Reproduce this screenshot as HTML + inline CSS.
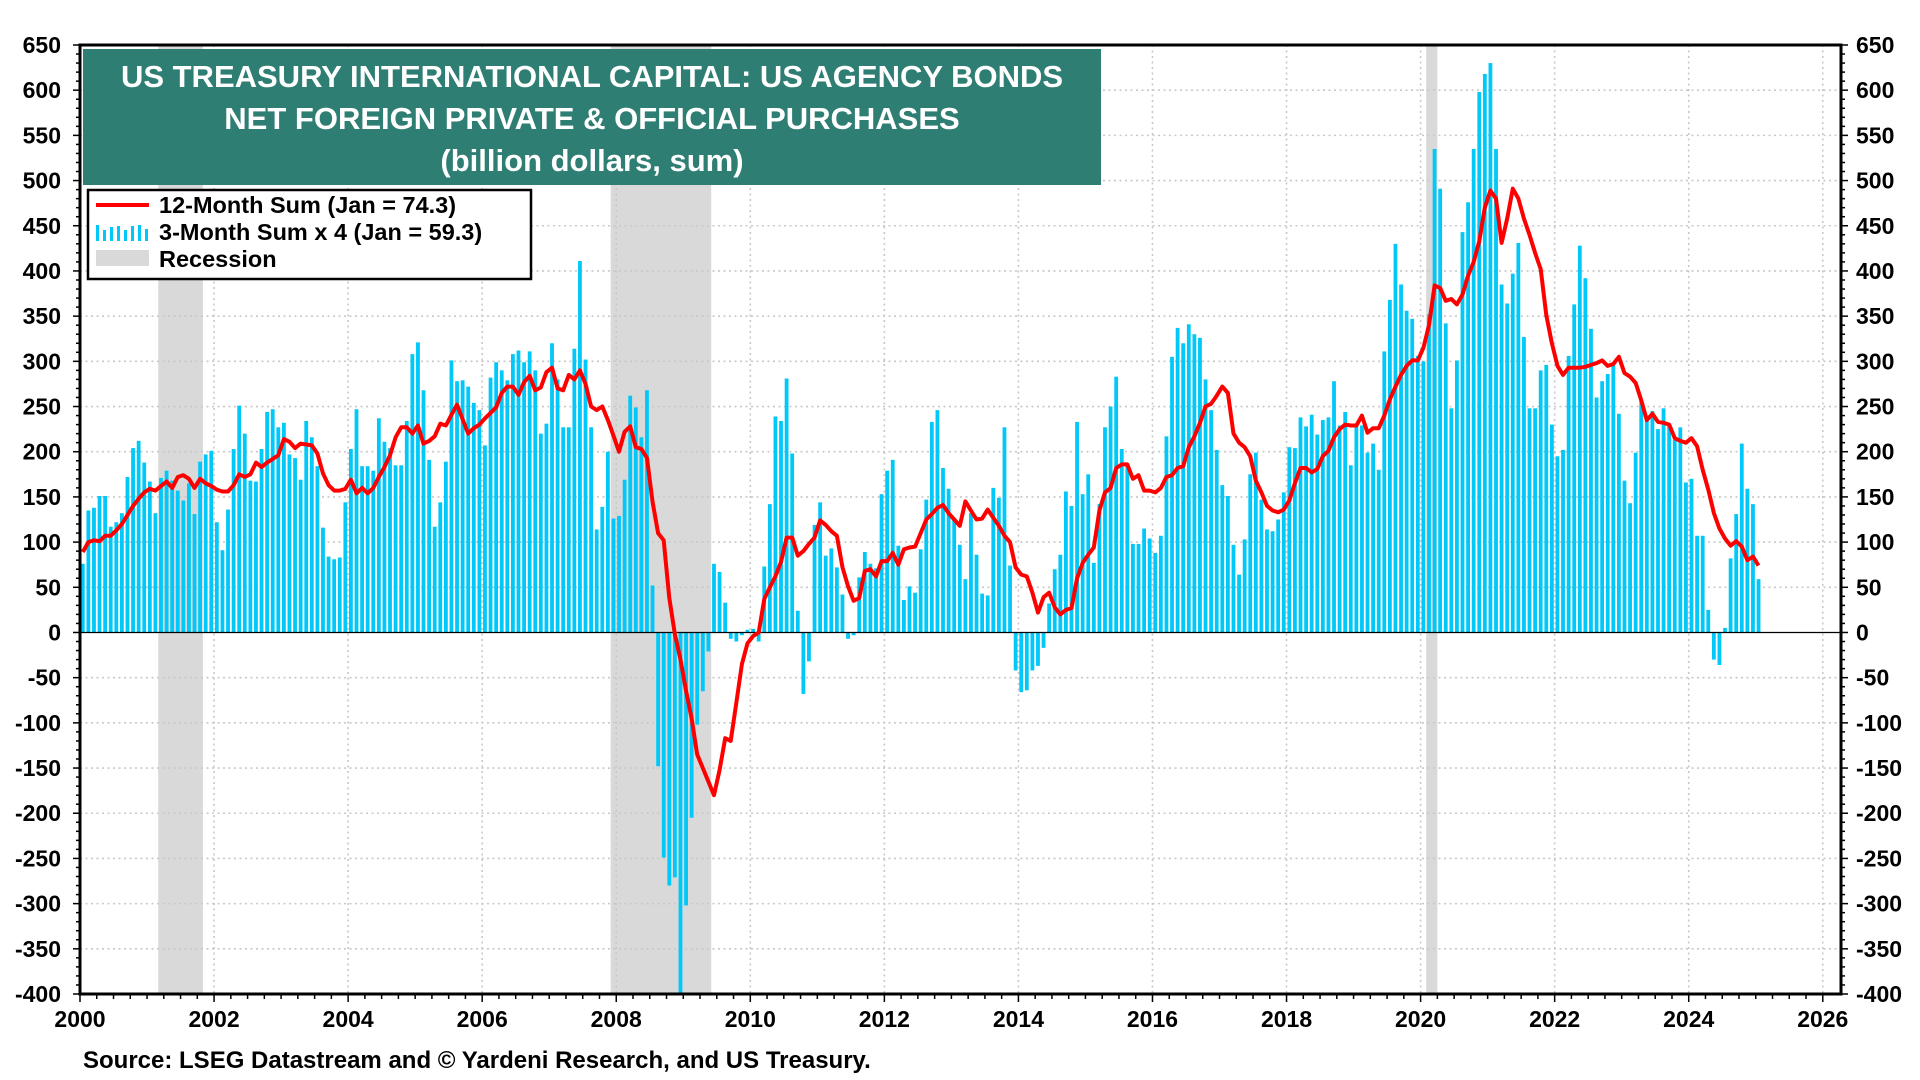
<!DOCTYPE html>
<html><head><meta charset="utf-8"><style>
html,body{margin:0;padding:0;background:#fff;}
svg{display:block;font-family:"Liberation Sans",Arial,sans-serif;}
</style></head><body>
<svg id="chart" width="1920" height="1080" viewBox="0 0 1920 1080" xmlns="http://www.w3.org/2000/svg"></svg>
<script>
const barValues = [
76,135,138,151,151,117,122,132,172,204,212,188,
167,132,171,179,168,157,146,165,131,189,197,201,
122,91,136,203,251,220,168,167,203,244,247,227,
232,197,193,169,234,216,184,116,84,81,83,144,
203,247,184,184,179,237,211,204,185,185,234,308,
321,268,191,117,144,189,301,278,279,272,254,246,
207,282,299,290,279,308,312,299,311,290,220,231,
320,280,227,227,314,411,302,227,114,139,200,126,
129,169,262,249,216,268,52,-148,-249,-280,-271,-400,
-302,-205,-102,-65,-21,76,67,33,-7,-10,-3,3,
4,-10,73,142,239,234,281,198,24,-68,-32,119,
144,85,93,72,42,-7,-3,61,89,76,71,153,
179,191,96,36,51,44,92,147,233,246,182,159,
125,97,59,132,86,43,41,160,149,227,74,-42,
-66,-64,-42,-37,-17,32,70,86,156,140,233,153,
175,77,142,227,250,283,203,185,98,98,115,104,
88,107,217,305,337,320,341,330,326,280,246,202,
163,151,97,64,103,175,199,147,114,112,125,155,
205,204,238,228,241,219,235,238,278,229,244,185,
229,229,199,209,180,311,368,430,385,356,347,306,
300,352,535,491,342,248,301,443,476,535,598,618,
630,535,385,364,397,431,327,248,248,290,296,230,
195,202,306,363,428,392,336,260,278,286,297,242,
168,143,199,257,235,245,225,248,229,213,227,166,
170,107,107,25,-30,-36,5,82,131,209,159,142,
59];
const lineValues = [
89,100,102,101,107,107,113,120,130,140,148,155,
159,157,162,167,160,172,174,170,160,170,165,162,
158,156,156,163,175,172,175,188,183,188,192,196,
214,211,204,209,208,207,198,176,163,157,157,159,
169,154,160,154,160,172,183,196,216,227,227,220,
229,209,212,217,231,229,241,252,236,220,226,230,
237,243,249,265,272,272,263,277,284,268,271,288,
293,270,268,285,280,290,275,250,246,250,235,218,
200,222,228,205,203,193,145,110,102,38,-2,-30,
-65,-95,-135,-150,-165,-180,-152,-117,-120,-78,-35,-12,
-4,0,37,50,62,78,105,105,85,90,98,105,
124,119,112,107,72,51,35,38,68,70,62,79,
79,88,75,92,94,95,110,125,131,138,141,132,
125,118,145,135,125,126,136,127,118,107,100,72,
64,62,44,22,39,44,28,20,25,27,60,77,
86,94,135,155,160,182,186,186,170,174,157,157,
155,160,172,174,182,184,205,217,232,250,253,262,
272,265,220,210,205,195,168,155,140,135,133,136,
146,165,182,182,177,181,195,201,216,225,230,229,
229,240,221,226,226,240,258,272,285,295,301,301,
315,340,384,381,367,369,363,374,395,410,433,470,
489,480,431,458,491,480,458,440,420,402,351,320,
295,285,293,293,293,294,296,298,301,295,297,305,
287,283,276,257,235,242,233,232,230,215,212,210,
215,206,180,158,132,115,104,96,101,95,80,84,
74];
const yTicks = [650,600,550,500,450,400,350,300,250,200,150,100,50,0,-50,-100,-150,-200,-250,-300,-350,-400];
const xTickYears = [2000,2002,2004,2006,2008,2010,2012,2014,2016,2018,2020,2022,2024,2026];
const recessionStarts = [2001.167, 2007.917, 2020.083];
const recessionEnds = [2001.833, 2009.417, 2020.25];

const NS = "http://www.w3.org/2000/svg";
const svg = document.getElementById('chart');
const L=80,R=1841,T=45,B=994;
function xOf(year){return L+(year-2000)*67.03;}
function yOf(v){return T+(650-v)*(B-T)/1050;}
function mk(tag,attrs,parent){const e=document.createElementNS(NS,tag);for(const k in attrs)e.setAttribute(k,attrs[k]);(parent||svg).appendChild(e);return e;}

const recG = mk('g',{});


for(let i=0;i<recessionStarts.length;i++){
  const r=mk('rect',{x:xOf(recessionStarts[i]),y:T,width:xOf(recessionEnds[i])-xOf(recessionStarts[i]),height:B-T,fill:'#d9d9d9'},recG);
  
  
}
const grid=mk('g',{stroke:'#c8c8c8','stroke-width':1.6,'stroke-dasharray':'2,3.5'});


yTicks.forEach(v=>{ if(v!==0&&v!==650&&v!==-400) mk('line',{x1:L,x2:R,y1:yOf(v),y2:yOf(v)},grid);});
xTickYears.forEach(y=>{ if(y>2000) mk('line',{x1:xOf(y),x2:xOf(y),y1:T,y2:B},grid);});
const barsG=mk('g',{fill:'#00c8f8'});


barValues.forEach((v,m)=>{
  const cx=xOf(2000+(m+0.5)/12);
  const y0=yOf(0), y1=yOf(v);
  const b=mk('rect',{x:cx-1.9,y:Math.min(y0,y1),width:3.8,height:Math.abs(y1-y0)},barsG);
  
  
});
const z=mk('line',{x1:L,x2:R,y1:yOf(0),y2:yOf(0),stroke:'#000','stroke-width':1.2});


const pts=lineValues.map((v,m)=>xOf(2000+(m+0.5)/12).toFixed(1)+','+yOf(v).toFixed(1)).join(' ');
const pl=mk('polyline',{points:pts,fill:'none',stroke:'#ff0000','stroke-width':4,'stroke-linejoin':'round'});


const fr=mk('rect',{x:L,y:T,width:R-L,height:B-T,fill:'none',stroke:'#000','stroke-width':3});


const yl=mk('g',{'font-size':23,'font-weight':'bold',fill:'#000'});


for(let v=-400;v<=650;v+=10){
  const major=v%50===0; const len=major?7:4;
  mk('line',{x1:L-len,x2:L,y1:yOf(v),y2:yOf(v),stroke:'#000','stroke-width':1.5},yl);
  mk('line',{x1:R,x2:R+len,y1:yOf(v),y2:yOf(v),stroke:'#000','stroke-width':1.5},yl);
}
yTicks.forEach(v=>{
  const t1=mk('text',{x:61,y:yOf(v)+8,'text-anchor':'end'},yl);t1.textContent=v;
  
  
  const t2=mk('text',{x:1856,y:yOf(v)+8,'text-anchor':'start'},yl);t2.textContent=v;
  
  
});
const xl=mk('g',{'font-size':23,'font-weight':'bold',fill:'#000'});


for(let q=0;q<=26*4;q++){
  const yr=2000+q/4; const major=q%8===0;
  mk('line',{x1:xOf(yr),x2:xOf(yr),y1:B,y2:B+(major?8:5),stroke:'#000','stroke-width':1.5},xl);
}
xTickYears.forEach(y=>{
  const t=mk('text',{x:xOf(y),y:1027,'text-anchor':'middle'},xl);t.textContent=y;
  
  
});
</script>
<svg style="position:absolute;left:0;top:0" width="1920" height="1080">
  <g>
    <rect x="83" y="49" width="1018" height="136" fill="#2f7e73"/>
    <text x="592" y="87" text-anchor="middle" font-family="Liberation Sans, sans-serif" font-weight="bold" font-size="31" fill="#fff">US TREASURY INTERNATIONAL CAPITAL: US AGENCY BONDS</text>
    <text x="592" y="129" text-anchor="middle" font-family="Liberation Sans, sans-serif" font-weight="bold" font-size="31" fill="#fff">NET FOREIGN PRIVATE &amp; OFFICIAL PURCHASES</text>
    <text x="592" y="171" text-anchor="middle" font-family="Liberation Sans, sans-serif" font-weight="bold" font-size="31" fill="#fff">(billion dollars, sum)</text>
  </g>
  <g font-family="Liberation Sans, sans-serif" font-weight="bold" font-size="23.5">
    <rect x="88" y="190" width="443" height="89" fill="#fff" stroke="#000" stroke-width="2.5"/>
    <line x1="96" x2="149" y1="205" y2="205" stroke="#ff0000" stroke-width="4"/>
    <text x="159" y="213">12-Month Sum (Jan = 74.3)</text>
    <g fill="#00c8f8">
      <rect x="96" y="225" width="3" height="16"/><rect x="103" y="230" width="3" height="11"/><rect x="110" y="227" width="3" height="14"/><rect x="117" y="226" width="3" height="15"/><rect x="124" y="230" width="3" height="11"/><rect x="131" y="226" width="3" height="15"/><rect x="138" y="225" width="3" height="16"/><rect x="145" y="229" width="3" height="12"/>
    </g>
    <text x="159" y="240">3-Month Sum x 4 (Jan = 59.3)</text>
    <rect x="96" y="250" width="53" height="16" fill="#d9d9d9"/>
    <text x="159" y="267">Recession</text>
  </g>
  <text x="83" y="1068" font-family="Liberation Sans, sans-serif" font-weight="bold" font-size="24">Source: LSEG Datastream and © Yardeni Research, and US Treasury.</text>
</svg>
</body></html>
